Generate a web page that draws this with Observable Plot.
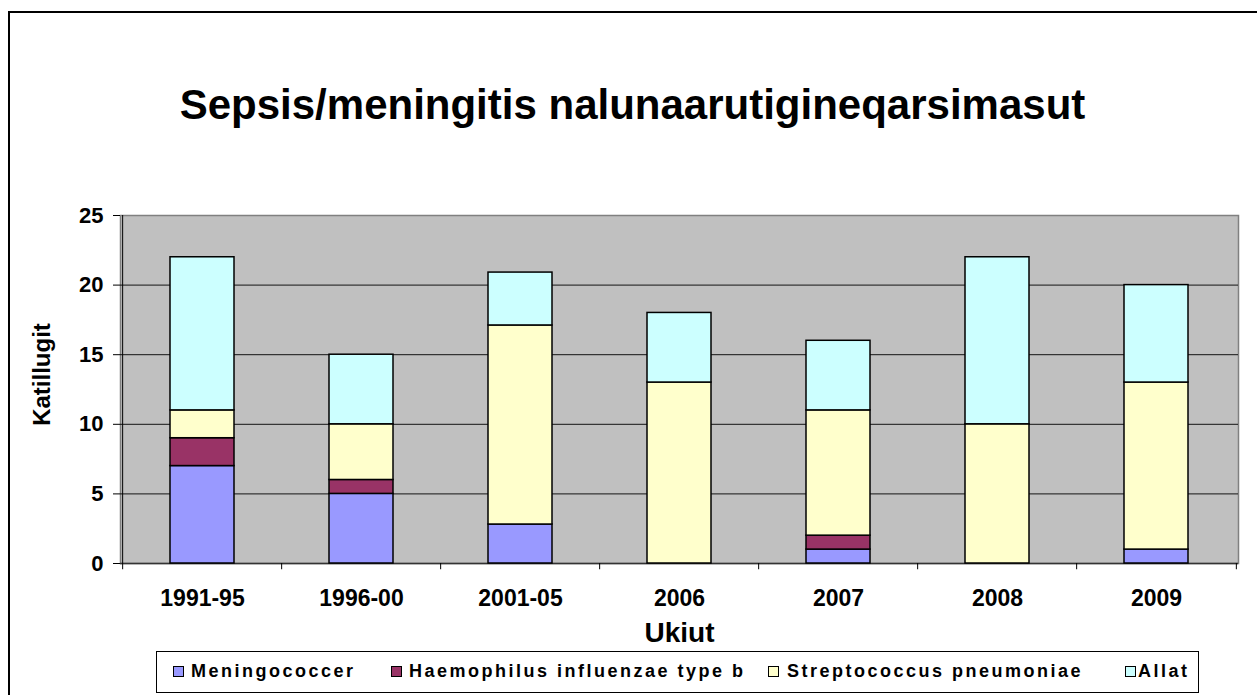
<!DOCTYPE html>
<html><head><meta charset="utf-8">
<script src="https://cdn.jsdelivr.net/npm/d3@7"></script>
<script src="https://cdn.jsdelivr.net/npm/@observablehq/plot@0.6"></script>
<style>
body{margin:0;width:1257px;height:695px;overflow:hidden;background:#fff;font-family:Arial,"Liberation Sans",sans-serif;position:relative}
#border{position:absolute;left:8px;top:11px;width:1300px;height:800px;border:2px solid #000;box-sizing:border-box}
#title{position:absolute;left:0;top:81px;width:1265px;text-align:center;font-weight:bold;font-size:42px;line-height:48px}
#chart{position:absolute;left:0;top:195px}
#legend{position:absolute;left:156px;top:651px;width:1043px;height:42px;border:1.5px solid #000;box-sizing:border-box;background:#fff}
.sw{position:absolute;top:14px;width:11px;height:11px;border:1.5px solid #000;box-sizing:border-box}
.lt{position:absolute;top:0;line-height:39px;font-weight:bold;font-size:18px;letter-spacing:2.5px;white-space:nowrap}
</style></head>
<body>
<div id="border"></div>
<div id="title">Sepsis/meningitis nalunaarutigineqarsimasut</div>
<div id="chart"></div>
<div id="legend"></div>
<script>
const categories = ["1991-95","1996-00","2001-05","2006","2007","2008","2009"];
const series = ["Meningococcer","Haemophilus influenzae type b","Streptococcus pneumoniae","Allat"];
const meningococcer = [7,5,2.8,0,1,0,1];
const haemophilus = [2,1,0,0,1,0,0];
const streptococcus = [2,4,14.3,13,9,10,12];
const allat = [11,5,3.8,5,5,12,7];
const colors = ["#9999FF","#993366","#FFFFCC","#CCFFFF"];
const yTicks = [0,5,10,15,20,25];

const valuesBySeries = [meningococcer, haemophilus, streptococcus, allat];
const rows = [];
categories.forEach((c,i)=>{
  series.forEach((s,j)=>{
    const v = valuesBySeries[j][i];
    if (v > 0) rows.push({year:c, series:s, value:v});
  });
});

const W=1257, H=455, mL=120, mR=19, mT=20, mB=87;
const step = (W-mL-mR)/categories.length;

const chart = Plot.plot({
  width: W, height: H,
  marginLeft: mL, marginRight: mR, marginTop: mT, marginBottom: mB,
  style: {fontFamily:"Arial, 'Liberation Sans', sans-serif", fontWeight:"bold", background:"transparent", color:"#000", overflow:"visible"},
  x: {domain: categories, paddingInner: 0.6, paddingOuter: 0.3, axis: null},
  y: {domain: [0,25], axis: null},
  color: {domain: series, range: colors},
  marks: [
    Plot.frame({fill:"#C0C0C0", stroke:"#808080", strokeWidth:1.5}),
    Plot.gridY(yTicks.filter(t=>t>0 && t<25), {stroke:"#000", strokeOpacity:0.9, strokeWidth:1}),
    Plot.ruleY([0], {stroke:"#333", strokeWidth:1.5}),
    Plot.ruleX([categories[0]], {x:d=>d, y1:25, y2:-0.45, dx:-step/2, stroke:"#000", strokeWidth:1}),
    Plot.ruleX(categories.slice(1), {x:d=>d, y1:0, y2:-0.45, dx:-step/2, stroke:"#000", strokeWidth:1}),
    Plot.ruleX([categories[categories.length-1]], {x:d=>d, y1:0, y2:-0.45, dx:step/2, stroke:"#000", strokeWidth:1}),
    Plot.axisY(yTicks, {tickSize:7, tickPadding:10, fontSize:22, fontWeight:"bold", stroke:"#000", label:null}),
    Plot.axisX({tickSize:0, tickPadding:26, fontSize:23, fontWeight:"bold", label:null}),
    Plot.barY(rows, {x:"year", y:"value", fill:"series", order: series, stroke:"#000", strokeWidth:1.5}),
    Plot.text(["Ukiut"], {frameAnchor:"bottom", text:d=>d, dy:70, lineAnchor:"middle", textAnchor:"middle", fontSize:28, fontWeight:"bold"}),
    Plot.text(["Katillugit"], {frameAnchor:"left", text:d=>d, rotate:-90, dx:-78, dy:-15, textAnchor:"middle", lineAnchor:"middle", fontSize:24, fontWeight:"bold"})
  ]
});
document.getElementById("chart").appendChild(chart);

// legend item positions relative to legend box (swatch left, text left)
const legendSwatchX = [16, 234, 611, 968];
const legendTextX = [34, 252, 630, 981];
const legend = document.getElementById("legend");
series.forEach((s,i)=>{
  const sw = document.createElement("div");
  sw.className = "sw";
  sw.style.left = legendSwatchX[i] + "px";
  sw.style.background = colors[i];
  legend.appendChild(sw);
  const t = document.createElement("div");
  t.className = "lt";
  t.style.left = legendTextX[i] + "px";
  t.textContent = s;
  legend.appendChild(t);
});
</script>
</body></html>
